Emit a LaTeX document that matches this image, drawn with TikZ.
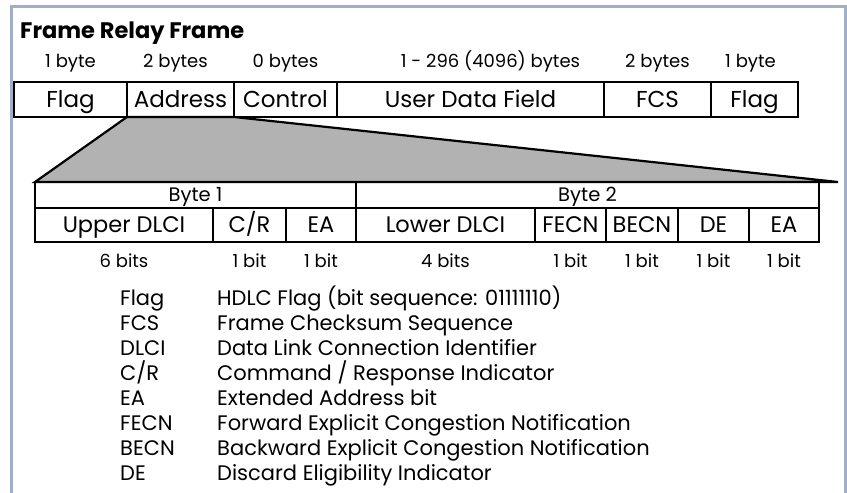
\documentclass[tikz,border=0pt]{standalone}
\usepackage{fontspec}
\setmainfont{Poppins}
\usepackage{xcolor}
\usetikzlibrary{positioning}
\definecolor{framegray}{RGB}{160,174,200}
\definecolor{zoomgray}{RGB}{178,178,178}

\begin{document}
\begin{tikzpicture}[
  x=1pt, y=-1pt,
  node distance=0pt,
  cell/.style={draw, line width=2.4pt, outer sep=0pt, inner sep=0pt, minimum height=35pt, text height=16pt, text depth=0pt, font=\fontsize{23}{27}\selectfont},
  bytecell/.style={cell, minimum height=26pt, text height=13.6pt, font=\fontsize{19.5}{23}\selectfont},
  bitcell/.style={cell, minimum height=34pt, text height=15.7pt, font=\fontsize{22.5}{26}\selectfont},
  size/.style={inner sep=0pt, anchor=base, font=\fontsize{18}{22}\selectfont},
  legend/.style={inner sep=0pt, anchor=base west, font=\fontsize{21}{25}\selectfont}
]
  \useasboundingbox (0,0) rectangle (847,493);
  \draw[framegray, line width=3pt] (11.5,493) |- (845,6.3) -- (845,493);

  \node[anchor=base west, inner sep=0pt, font=\bfseries\fontsize{22.5}{26}\selectfont] (title) at (20,38) {Frame Relay Frame};

  \node[cell, minimum width=113pt, anchor=north west] (flagA) at (14,82) {Flag};
  \node[cell, minimum width=107pt, right=of flagA] (address) {Address};
  \node[cell, minimum width=103pt, right=of address] (control) {Control};
  \node[cell, minimum width=267pt, right=of control] (userdata) {User Data Field};
  \node[cell, minimum width=107pt, right=of userdata] (fcs) {FCS};
  \node[cell, minimum width=87pt, right=of fcs] (flagB) {Flag};

  \node[size, above=10pt of flagA] {1 byte};
  \node[size, above=10pt of address, xshift=-5pt] {2 bytes};
  \node[size, above=10pt of control] {0 bytes};
  \node[size, above=10pt of userdata, xshift=20pt] {1 - 296 (4096) bytes};
  \node[size, above=10pt of fcs] {2 bytes};
  \node[size, above=10pt of flagB, xshift=-4pt] {1 byte};

  \node[bytecell, minimum width=321pt, anchor=north west] (byteone) at (35,182) {Byte 1};
  \node[bytecell, minimum width=463pt, right=of byteone] (bytetwo) {Byte 2};

  \node[bitcell, minimum width=178pt, below=of byteone.south west, anchor=north west] (upperdlci) {Upper DLCI};
  \node[bitcell, minimum width=73pt, right=of upperdlci] (cr) {C/R};
  \node[bitcell, minimum width=70pt, right=of cr] (eaone) {EA};
  \node[bitcell, minimum width=179pt, right=of eaone] (lowerdlci) {Lower DLCI};
  \node[bitcell, minimum width=71pt, right=of lowerdlci] (fecn) {FECN};
  \node[bitcell, minimum width=72pt, right=of fecn] (becn) {BECN};
  \node[bitcell, minimum width=71pt, right=of becn] (de) {DE};
  \node[bitcell, minimum width=70pt, right=of de] (eatwo) {EA};

  \node[size, below=25pt of upperdlci, anchor=base] {6 bits};
  \node[size, below=25pt of cr, anchor=base] {1 bit};
  \node[size, below=25pt of eaone, anchor=base] {1 bit};
  \node[size, below=25pt of lowerdlci, anchor=base] {4 bits};
  \node[size, below=25pt of fecn, anchor=base] {1 bit};
  \node[size, below=25pt of becn, anchor=base] {1 bit};
  \node[size, below=25pt of de, anchor=base] {1 bit};
  \node[size, below=25pt of eatwo, anchor=base] {1 bit};

  \coordinate[right=19pt of bytetwo.north east] (zoomend);
  \draw[line width=2.2pt, line join=miter, fill=zoomgray] (address.south west) -- (byteone.north west) -- (zoomend) -- (address.south east) -- cycle;

  \node[legend] (kflag) at (120,305) {Flag};
  \node[legend, below=25pt of kflag.base west, anchor=base west] (kfcs) {FCS};
  \node[legend, below=25pt of kfcs.base west, anchor=base west] (kdlci) {DLCI};
  \node[legend, below=25pt of kdlci.base west, anchor=base west] (kcr) {C/R};
  \node[legend, below=25pt of kcr.base west, anchor=base west] (kea) {EA};
  \node[legend, below=25pt of kea.base west, anchor=base west] (kfecn) {FECN};
  \node[legend, below=25pt of kfecn.base west, anchor=base west] (kbecn) {BECN};
  \node[legend, below=25pt of kbecn.base west, anchor=base west] (kde) {DE};

  \node[legend, right=97pt of kflag.base west, anchor=base west] {HDLC Flag (bit sequence: 01111110)};
  \node[legend, right=97pt of kfcs.base west, anchor=base west] {Frame Checksum Sequence};
  \node[legend, right=97pt of kdlci.base west, anchor=base west] {Data Link Connection Identifier};
  \node[legend, right=97pt of kcr.base west, anchor=base west] {Command / Response Indicator};
  \node[legend, right=97pt of kea.base west, anchor=base west] {Extended Address bit};
  \node[legend, right=97pt of kfecn.base west, anchor=base west] {Forward Explicit Congestion Notification};
  \node[legend, right=97pt of kbecn.base west, anchor=base west] {Backward Explicit Congestion Notification};
  \node[legend, right=97pt of kde.base west, anchor=base west] {Discard Eligibility Indicator};
\end{tikzpicture}
\end{document}
